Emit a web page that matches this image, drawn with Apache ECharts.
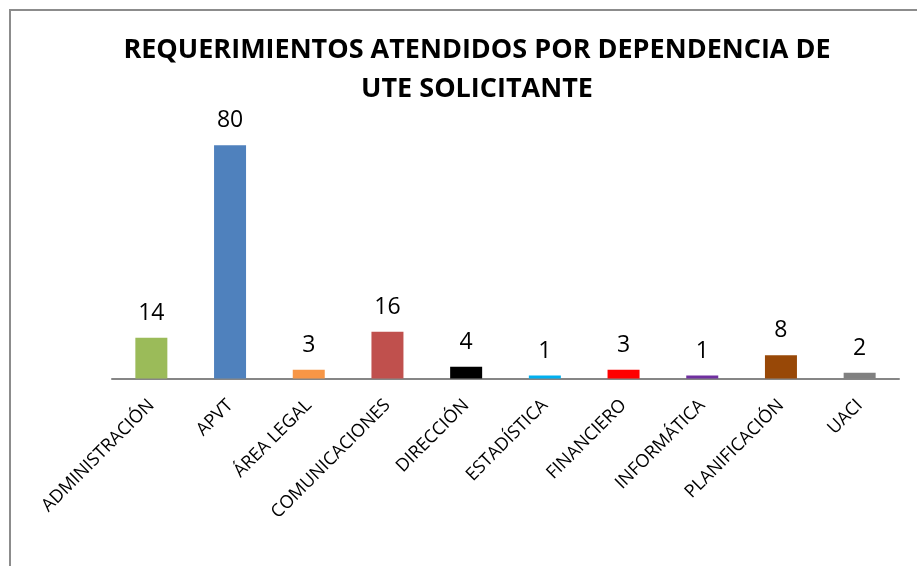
<!DOCTYPE html>
<html>
<head>
<meta charset="utf-8">
<script src="https://cdn.jsdelivr.net/npm/echarts@6/dist/echarts.min.js"></script>
<style>
html,body{margin:0;padding:0;background:#fff;}
#chart{width:917px;height:566px;}
</style>
</head>
<body>
<div id="chart"></div>
<script>
const categories = ['ADMINISTRACIÓN','APVT','ÁREA LEGAL','COMUNICACIONES','DIRECCIÓN','ESTADÍSTICA','FINANCIERO','INFORMÁTICA','PLANIFICACIÓN','UACI'];
const values = [14, 80, 3, 16, 4, 1, 3, 1, 8, 2];
const barColors = ['#9BBB59','#4F81BD','#F79646','#C0504D','#000000','#00B0F0','#FF0000','#7030A0','#984807','#808080'];
const titleText = 'REQUERIMIENTOS ATENDIDOS POR DEPENDENCIA DE\nUTE SOLICITANTE';

const chart = echarts.init(document.getElementById('chart'));
chart.setOption({
  animation: false,
  title: {
    text: titleText,
    left: 472,
    top: 26,
    textAlign: 'center',
    textStyle: {
      fontFamily: 'Open Sans',
      fontWeight: 'bold',
      fontSize: 27,
      lineHeight: 39,
      color: '#000'
    }
  },
  graphic: [{
    type: 'polyline',
    shape: { points: [[10, 600], [10, 10], [1000, 10]] },
    style: { stroke: '#8c8c8c', lineWidth: 2, fill: null },
    silent: true
  }],
  grid: { left: 112, right: 18, top: 116, bottom: 187.5 },
  xAxis: {
    type: 'category',
    data: categories,
    axisLine: { lineStyle: { color: '#868686', width: 2 } },
    axisTick: { show: false },
    axisLabel: {
      rotate: 45,
      interval: 0,
      margin: 24,
      fontFamily: 'Open Sans',
      fontSize: 18,
      color: '#000'
    }
  },
  yAxis: {
    type: 'value',
    min: 0,
    max: 90,
    show: false,
    splitLine: { show: false }
  },
  series: [{
    type: 'bar',
    data: values.map((v, i) => ({ value: v, itemStyle: { color: barColors[i] } })),
    barWidth: 32,
    label: {
      show: true,
      position: 'top',
      distance: 13,
      fontFamily: 'Open Sans',
      fontSize: 23,
      color: '#000'
    }
  }]
});
</script>
</body>
</html>
